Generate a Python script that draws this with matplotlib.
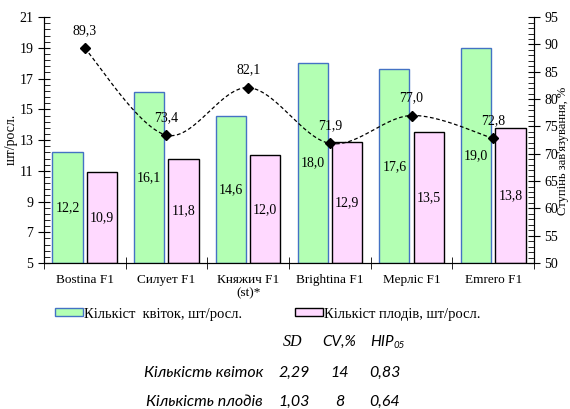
import numpy as np
import matplotlib.pyplot as plt
from matplotlib.ticker import MultipleLocator, FixedLocator
from matplotlib.patches import Patch

# data
varieties = ['Bostina F1', 'Силует F1', 'Княжич F1\n(st)*', 'Brightina F1', 'Мерліс F1', 'Emrero F1']
flowers = [12.2, 16.1, 14.6, 18.0, 17.6, 19.0]
fruits = [10.9, 11.8, 12.0, 12.9, 13.5, 13.8]
setting = [89.3, 73.4, 82.1, 71.9, 77.0, 72.8]

stat_cols = ['SD', 'CV,%', 'HIP']
stat_rows = ['Кількість квіток', 'Кількість плодів']
stat_vals = [['2,29', '14', '0,83'], ['1,03', '8', '0,64']]

serif = 'Liberation Serif'
plt.rcParams['font.family'] = serif

def fmt(v):
    return f'{v:.1f}'.replace('.', ',')

def smooth(xs, ys, n=30):
    # Excel-like smoothed line (Catmull-Rom through the points)
    px, py = [], []
    P = list(zip(xs, ys))
    P = [P[0]] + P + [P[-1]]
    for i in range(1, len(P) - 2):
        p0, p1, p2, p3 = [np.array(p, float) for p in P[i - 1:i + 3]]
        c1 = p1 + (p2 - p0) / 6
        c2 = p2 - (p3 - p1) / 6
        t = np.linspace(0, 1, n)[:, None]
        seg = (1 - t) ** 3 * p1 + 3 * (1 - t) ** 2 * t * c1 + 3 * (1 - t) * t ** 2 * c2 + t ** 3 * p2
        px.extend(seg[:, 0]); py.extend(seg[:, 1])
    return px, py

fig = plt.figure(figsize=(5.7, 4.09), dpi=100)
ax = fig.add_axes([0.077, 0.357, 0.86, 0.601])
x = np.arange(len(varieties))
w = 0.37
green = '#b3ffb3'
pink = '#ffd9ff'

ax.bar(x - 0.21, [f - 5 for f in flowers], w, bottom=5, color=green, edgecolor='#4472c4', linewidth=1.0)
ax.bar(x + 0.21, [f - 5 for f in fruits], w, bottom=5, color=pink, edgecolor='black', linewidth=1.0)
for xi, v in zip(x, flowers):
    ax.text(xi - 0.21, (v + 5) / 2, fmt(v), ha='center', va='center', fontsize=10)
for xi, v in zip(x, fruits):
    ax.text(xi + 0.21, (v + 5) / 2, fmt(v), ha='center', va='center', fontsize=10)

ax.set_xlim(-0.5, 5.5)
ax.set_ylim(5, 21)
ax.yaxis.set_major_locator(FixedLocator(np.arange(5, 22, 2)))
ax.yaxis.set_minor_locator(FixedLocator(np.arange(5, 21.01, 0.4)))
ax.tick_params(axis='y', which='major', direction='inout', length=8, labelsize=10)
ax.tick_params(axis='y', which='minor', direction='in', length=4)
ax.set_xticks(x)
ax.set_xticklabels(varieties, fontsize=9.5, linespacing=1.1)
ax.xaxis.set_minor_locator(FixedLocator(np.arange(-0.5, 6, 1)))
ax.tick_params(axis='x', which='major', length=0, pad=8)
ax.tick_params(axis='x', which='minor', direction='inout', length=8)
ax.spines['top'].set_visible(False)
fig.text(11 / 570, 0.66, 'шт/росл.', rotation=90, ha='center', va='center', fontsize=10)

ax2 = ax.twinx()
ax2.set_ylim(50, 95)
ax2.yaxis.set_major_locator(MultipleLocator(5))
ax2.yaxis.set_minor_locator(MultipleLocator(1))
ax2.tick_params(axis='y', which='major', direction='inout', length=8, labelsize=10)
ax2.tick_params(axis='y', which='minor', direction='in', length=4)
ax2.spines['top'].set_visible(False)
sx, sy = smooth(x, setting)
ax2.plot(sx, sy, color='black', linestyle=(0, (3, 2)), linewidth=0.9)
ax2.plot(x, setting, linestyle='none', marker='D', markersize=5, color='black')
for xi, v in zip(x, setting):
    ax2.annotate(fmt(v), (xi, v), xytext=(0, 8), textcoords='offset points',
                 ha='center', va='bottom', fontsize=10)
fig.text(563 / 570, 0.63, "Ступінь зав'язування, %", rotation=90, ha='center', va='center', fontsize=9)

fig.legend(handles=[Patch(facecolor=green, edgecolor='#4472c4'), Patch(facecolor=pink, edgecolor='black')],
           labels=['Кількіст  квіток, шт/росл.', 'Кількіст плодів, шт/росл.'],
           loc='center', bbox_to_anchor=(0.47, 0.232), ncol=2, frameon=False, fontsize=10.5,
           handlelength=1.9, handleheight=0.45, handletextpad=0.1, columnspacing=3.6)

# stats table
H = 409.0
W = 570.0
sans = 'Lato'
fig.text(293 / W, 1 - 342 / H, 'SD', ha='center', va='center', fontsize=11.5, style='italic', family=serif)
fig.text(339 / W, 1 - 342 / H, 'CV,%', ha='center', va='center', fontsize=11, style='italic', family=sans)
fig.text(370 / W, 1 - 342 / H, 'HIP', ha='left', va='center', fontsize=11, style='italic', family=sans)
fig.text(394 / W, 1 - 345 / H, '05', ha='left', va='center', fontsize=7, style='italic', family=sans)
centers = [294, 340, 385]
for r, (lab, vals) in enumerate(zip(stat_rows, stat_vals)):
    yy = 1 - (373 + 29 * r) / H
    fig.text(263 / W, yy, lab, ha='right', va='center', fontsize=11.5, style='italic', family=sans)
    for c, v in zip(centers, vals):
        fig.text(c / W, yy, v, ha='center', va='center', fontsize=11.5, style='italic', family=sans)

fig.savefig('out.png', dpi=100)
